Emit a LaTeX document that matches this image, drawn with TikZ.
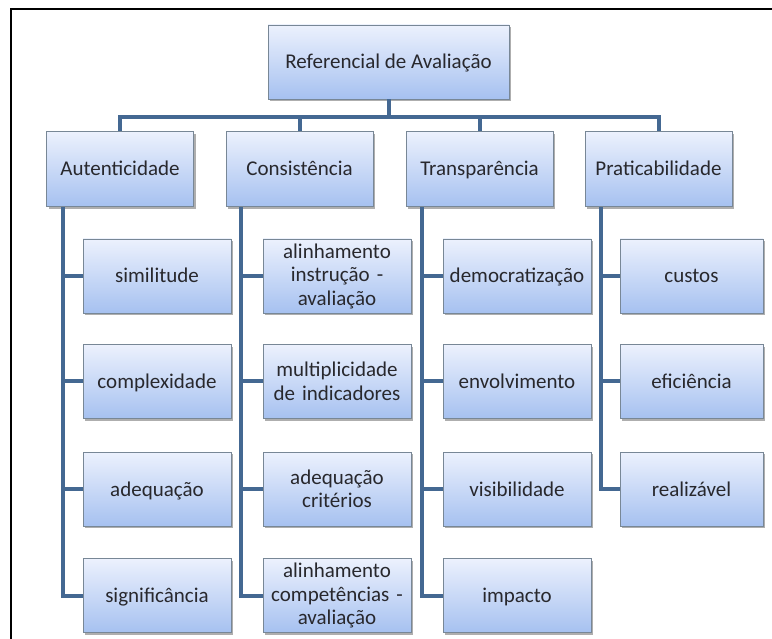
\documentclass[tikz,border=0pt]{standalone}
\usepackage{fontspec}
\setmainfont{Carlito}
\usetikzlibrary{calc,shadows}
\definecolor{linec}{RGB}{68,104,146}
\definecolor{boxtop}{RGB}{236,241,253}
\definecolor{boxbot}{RGB}{166,193,240}
\definecolor{boxdraw}{RGB}{120,135,150}
\definecolor{txt}{RGB}{40,40,45}
\tikzset{
  box/.style={rectangle, draw=boxdraw, line width=0.8pt, top color=boxtop, bottom color=boxbot,
    text=txt, align=center, inner sep=2pt,
    font=\fontsize{21}{23.5}\selectfont,
    drop shadow={shadow xshift=2.2pt, shadow yshift=-2.2pt, opacity=0.45, fill=black!70}},
  one/.style={text height=17pt, text depth=3pt},
  lvl/.style={box, one, minimum width=147pt, minimum height=75pt},
  leaf/.style={box, minimum width=148pt, minimum height=74pt, text width=144pt},
  conn/.style={draw=linec, line width=4pt},
  x=1pt, y=1pt
}
\begin{document}
\begin{tikzpicture}
\useasboundingbox (0,0) rectangle (772,-639);
\fill[white] (0,0) rectangle (772,-639);
\draw[line width=1.3pt] (11,-639) -- (11,-9) -- (772,-9);

\coordinate (bar) at (0,-117);

\node[box, one, minimum width=241pt, minimum height=74pt] (root) at (388.5,-62) {Referencial de Avaliação};

\node[lvl] (aut) at (120,-169) {Autenticidade};
\node[lvl] (con) at (299.5,-169) {Consistência};
\node[lvl] (tra) at (479.5,-169) {Transparência};
\node[lvl] (pra) at (658.5,-169) {Praticabilidade};

% connectors top
\draw[conn] (root.south) -- (root.south |- bar);
\draw[conn] (aut.north) -- (aut.north |- bar) -- (pra.north |- bar) -- (pra.north);
\draw[conn] (con.north) -- (con.north |- bar);
\draw[conn] (tra.north) -- (tra.north |- bar);

% Autenticidade children
\node[leaf, one] (a1) at (157,-276) {similitude};
\node[leaf, one] (a2) at (157,-381.5) {complexidade};
\node[leaf, one] (a3) at (157,-489) {adequação};
\node[leaf, one] (a4) at (157,-595.5) {significância};

% Consistencia children
\node[leaf] (c1) at (337,-276) {alinhamento\\instrução -\\avaliação};
\node[leaf] (c2) at (337,-381.5) {multiplicidade\\de indicadores};
\node[leaf] (c3) at (337,-489) {adequação\\critérios};
\node[leaf] (c4) at (337,-595.5) {alinhamento\\competências -\\avaliação};

% Transparencia children
\node[leaf, one] (t1) at (517,-276) {democratização};
\node[leaf, one] (t2) at (517,-381.5) {envolvimento};
\node[leaf, one] (t3) at (517,-489) {visibilidade};
\node[leaf, one] (t4) at (517,-595.5) {impacto};

% Praticabilidade children
\node[leaf, one, minimum width=143pt, text width=138pt] (p1) at (691.5,-276) {custos};
\node[leaf, one, minimum width=143pt, text width=138pt] (p2) at (691.5,-381.5) {eficiência};
\node[leaf, one, minimum width=143pt, text width=138pt] (p3) at (691.5,-489) {realizável};

% stems
\coordinate (as) at ($(aut.south west)+(17,0)$);
\coordinate (cs) at ($(con.south west)+(15,0)$);
\coordinate (ts) at ($(tra.south west)+(16,0)$);
\coordinate (ps) at ($(pra.south west)+(16,0)$);

\draw[conn] (as) |- (a4.west);
\foreach \n in {a1,a2,a3} \draw[conn] (as |- \n.west) -- (\n.west);
\draw[conn] (cs) |- (c4.west);
\foreach \n in {c1,c2,c3} \draw[conn] (cs |- \n.west) -- (\n.west);
\draw[conn] (ts) |- (t4.west);
\foreach \n in {t1,t2,t3} \draw[conn] (ts |- \n.west) -- (\n.west);
\draw[conn] (ps) |- (p3.west);
\foreach \n in {p1,p2} \draw[conn] (ps |- \n.west) -- (\n.west);
\end{tikzpicture}
\end{document}
